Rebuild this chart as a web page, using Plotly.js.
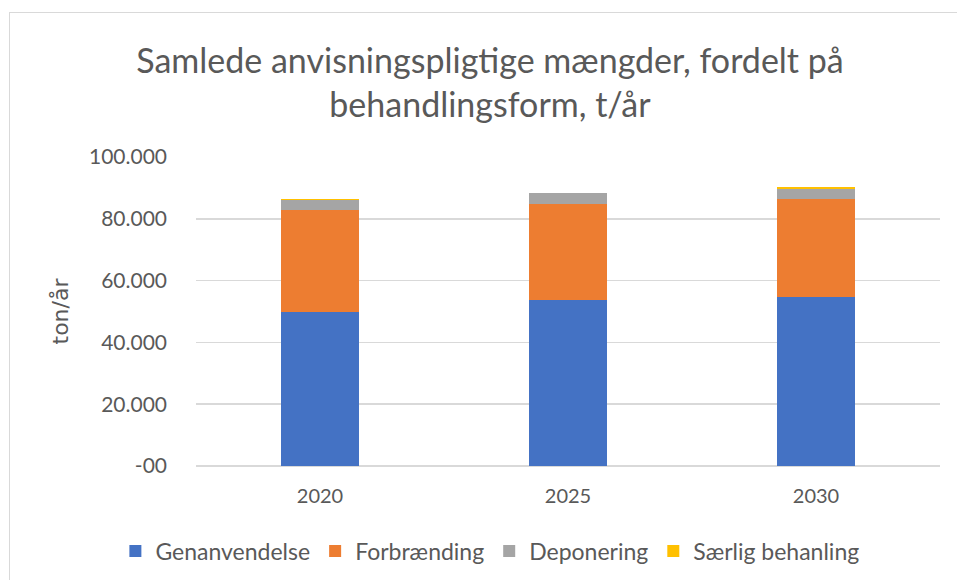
<!DOCTYPE html>
<html>
<head>
<meta charset="utf-8">
<script src="https://cdn.plot.ly/plotly-3.0.1.min.js"></script>
<style>
  html, body { margin: 0; padding: 0; background: #fff; }
  #wrap { position: relative; width: 957px; height: 580px; overflow: hidden; }
  #chart { width: 957px; height: 580px; }
  #frame { position: absolute; left: 9px; top: 12px; width: 980px; height: 600px;
           border: 1px solid #d9d9d9; pointer-events: none; box-sizing: border-box; }
</style>
</head>
<body>
<div id="wrap"><div id="chart"></div><div id="frame"></div></div>
<script>
const categories = ['2020', '2025', '2030'];
const genanvendelse = [49800, 53700, 54800];
const forbraending = [32900, 31100, 31600];
const deponering = [3400, 3400, 3400];
const saerlig = [400, 300, 350];
const tickValues = [0, 20000, 40000, 60000, 80000, 100000];
const tickLabels = ['-00', '20.000', '40.000', '60.000', '80.000', '100.000'];

const FONT = 'Lato, "Liberation Sans", sans-serif';
const GREY = '#595959';

function bar(name, y, color) {
  return { type: 'bar', name: name, x: categories, y: y,
           marker: { color: color, line: { width: 0 } }, hoverinfo: 'x+y+name' };
}

const data = [
  bar('Genanvendelse', genanvendelse, '#4472c4'),
  bar('Forbrænding', forbraending, '#ed7d31'),
  bar('Deponering', deponering, '#a5a5a5'),
  bar('Særlig behanling', saerlig, '#ffc000')
];

const layout = {
  width: 957, height: 580,
  barmode: 'stack',
  bargap: 0.685,
  separators: ',.',
  paper_bgcolor: 'rgba(0,0,0,0)',
  plot_bgcolor: 'rgba(0,0,0,0)',
  margin: { l: 196, r: 17, t: 157, b: 114, autoexpand: false },
  font: { family: FONT, color: GREY, size: 21 },
  title: {
    text: 'Samlede anvisningspligtige mængder, fordelt på<br>behandlingsform, t/år',
    font: { family: FONT, size: 34, color: GREY },
    x: 0.512, xref: 'container', xanchor: 'center',
    y: 0.874, yref: 'container', yanchor: 'middle'
  },
  xaxis: {
    type: 'category',
    showgrid: false, showline: false, zeroline: false,
    ticks: '', tickfont: { family: FONT, size: 20, color: GREY },
    ticklabelstandoff: 16
  },
  yaxis: {
    range: [0, 100000],
    tickvals: tickValues, ticktext: tickLabels,
    showgrid: true, gridcolor: '#d9d9d9', gridwidth: 1.5,
    zeroline: true, zerolinecolor: '#d9d9d9', zerolinewidth: 1.5,
    showline: false, ticks: '',
    tickfont: { family: FONT, size: 21, color: GREY },
    ticklabelstandoff: 28,
    title: { text: 'ton/år', font: { family: '"DejaVu Sans", sans-serif', size: 22, color: GREY }, standoff: 14 }
  },
  legend: {
    orientation: 'h', x: 0.395, xanchor: 'center', y: -0.275, yanchor: 'middle',
    font: { family: FONT, size: 23, color: GREY },
    traceorder: 'normal', itemclick: false
  },
  showlegend: true
};

Plotly.newPlot('chart', data, layout, { displayModeBar: false, staticPlot: true });
</script>
</body>
</html>
